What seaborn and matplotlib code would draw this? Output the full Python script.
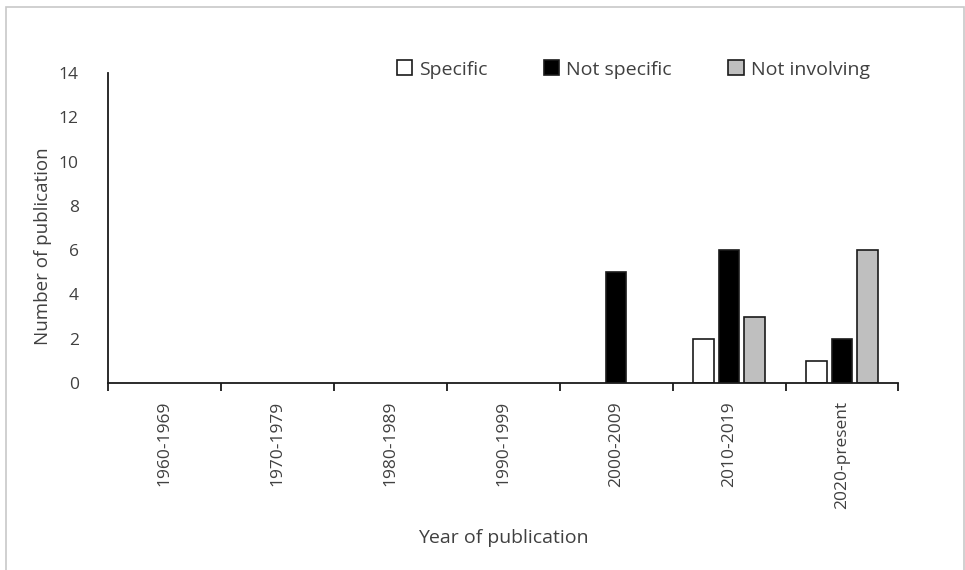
import matplotlib
matplotlib.use("Agg")
import matplotlib.pyplot as plt
import numpy as np
import pandas as pd
import seaborn as sns
from matplotlib.patches import Patch, Rectangle

decades = ["1960-1969", "1970-1979", "1980-1989", "1990-1999",
           "2000-2009", "2010-2019", "2020-present"]
specific = [0, 0, 0, 0, 0, 2, 1]
not_specific = [0, 0, 0, 0, 5, 6, 2]
not_involving = [0, 0, 0, 0, 0, 3, 6]
series = ["Specific", "Not specific", "Not involving"]
colors = ["#ffffff", "#000000", "#bfbfbf"]
y_ticks = list(range(0, 15, 2))

df = pd.DataFrame({
    "decade": decades * 3,
    "group": [s for s in series for _ in decades],
    "count": specific + not_specific + not_involving,
})

sns.set_theme(style="white")
plt.rcParams["font.family"] = ["Open Sans", "DejaVu Sans"]
text_col = "#404040"

fig = plt.figure(figsize=(9.65, 5.7), dpi=100)
ax = fig.add_axes([0.112, 0.328, 0.819, 0.544])

sns.barplot(data=df, x="decade", y="count", hue="group", order=decades,
            hue_order=series, palette=colors, width=0.68, gap=0.2,
            edgecolor="#1a1a1a", linewidth=1.2, legend=False, ax=ax)
# empty bars should not leave an outline on the baseline
for bar in ax.patches:
    if bar.get_height() == 0:
        bar.set_linewidth(0)

ax.set_ylim(0, 14)
ax.set_yticks(y_ticks)
ax.set_xlim(-0.5, len(decades) - 0.5)
ax.tick_params(axis="y", left=False, labelsize=12.5, labelcolor=text_col, pad=15)
ax.tick_params(axis="x", which="major", bottom=True, length=0, labelsize=12.5,
               labelcolor=text_col, pad=13)
ax.set_xticks(np.arange(-0.5, len(decades)), minor=True)
ax.tick_params(axis="x", which="minor", bottom=True, length=6, width=1.3,
               color="#1a1a1a", direction="out")
for lbl in ax.get_xticklabels():
    lbl.set_rotation(90)

for side in ["top", "right"]:
    ax.spines[side].set_visible(False)
for side in ["left", "bottom"]:
    ax.spines[side].set_color("#1a1a1a")
    ax.spines[side].set_linewidth(1.3)

ax.set_xlabel("Year of publication", fontsize=14, color=text_col, labelpad=14)
ax.set_ylabel("Number of publication", fontsize=13.5, color=text_col)
ax.yaxis.set_label_coords(-0.071, 0.442)

handles = [Patch(facecolor=c, edgecolor="#1a1a1a", linewidth=1.2) for c in colors]
fig.legend(handles, series, loc="center", bbox_to_anchor=(0.656, 0.878),
           ncol=3, frameon=False, fontsize=14, labelcolor=text_col,
           handlelength=0.8, handleheight=0.8, handletextpad=0.35,
           columnspacing=2.9)

fig.patches.append(Rectangle((6 / 965, -0.01), 958 / 965, 1 - 7 / 570 + 0.01,
                             transform=fig.transFigure, fill=False,
                             edgecolor="#c8c8c8", linewidth=1.2))

fig.savefig("out.png", dpi=100, facecolor="white")
